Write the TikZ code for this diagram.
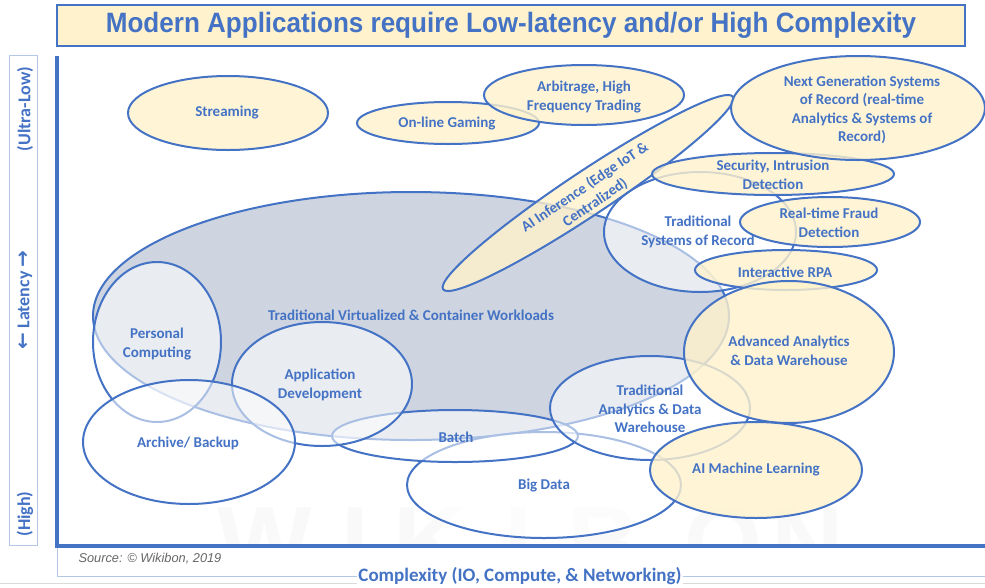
\documentclass[tikz,border=0pt]{standalone}
\usepackage{fontspec}
\setmainfont{Carlito}
\newfontfamily\titlefont[FakeStretch=0.93]{Liberation Sans}
\newfontfamily\srcfont{Liberation Sans}
\newfontfamily\arrowfont{DejaVu Sans}
\usepackage{tikz}
\usetikzlibrary{shapes.geometric}
\usetikzlibrary{positioning}
\definecolor{wkblue}{HTML}{4472C4}
\definecolor{wkyellow}{HTML}{FFF2CC}
\definecolor{wkgray}{HTML}{CFD5E0}
\definecolor{wkline}{HTML}{B4C7E7}
\tikzstyle{blob} = [ellipse, draw=wkblue, line width=2pt, inner sep=0pt]
\tikzstyle{yblob} = [blob, fill=wkyellow, fill opacity=0.8]
\tikzstyle{wblob} = [blob, fill=white, fill opacity=0.55]
\tikzstyle{gblob} = [blob, fill=wkgray]
\tikzstyle{lbl} = [text=wkblue, font=\fontsize{15}{18.5}\selectfont\bfseries, align=center, inner sep=0pt]
\tikzstyle{axislbl} = [text=wkblue, font=\fontsize{18}{20}\selectfont\bfseries]

\begin{document}
\begin{tikzpicture}[x=1pt, y=-1pt]
        \useasboundingbox (0,0) rectangle (985,587);
        % faint watermark
        \begin{scope}
            \clip (57,56) rectangle (985,546);
            \foreach \ch/\xx in {W/265, I/355, K/430, I/518, B/604, O/723, N/808}
                \node (wm\xx) [text=black!2.5, font=\srcfont\bfseries\fontsize{100}{100}\selectfont, anchor=base] at (\xx,576) {\ch};
        \end{scope}

        \node (title) [rectangle, draw=wkblue, line width=2pt, fill=wkyellow, minimum width=908pt, minimum height=41pt, text=wkblue, font=\titlefont\bfseries\fontsize{28}{30}\selectfont] at (511,25.5) {Modern Applications require Low-latency and/or High Complexity};

        % axes
        \node (latbox) [rectangle, draw=wkline, line width=0.8pt, minimum width=28pt, minimum height=490pt] at (23,300.5) {};
        \node (ultra) [axislbl, rotate=90] at (25,109) {(Ultra-Low)};
        \node (latency) [axislbl, rotate=90] at (25,300) {{\arrowfont\fontsize{20}{20}\selectfont ←} Latency {\arrowfont\fontsize{20}{20}\selectfont →}};
        \node (high) [axislbl, rotate=90] at (25,514) {(High)};
        \coordinate (ytop) at (57,56);
        \coordinate (origin) at (57,546);
        \coordinate (xend) at (985,546);
        \coordinate (srcbl) at (57,576);
        \coordinate (srcbr) at (985,576);
        \draw [wkline, line width=0.8pt] (origin) -- (srcbl) -- (srcbr);
        \draw [black!15, line width=0.8pt] (0,583) -- (985,583);
        \draw [wkblue, line width=3.5pt] (ytop) -- (origin) -- (xend);
        \node (source) [anchor=west, text=black!60, font=\srcfont\itshape\fontsize{12.8}{14}\selectfont] at (75,559) {Source: © Wikibon, 2019};
        \node (complexity) [axislbl, fill=white, inner sep=1pt, font=\fontsize{19}{20}\selectfont\bfseries, anchor=base] at (520,581.5) {Complexity (IO, Compute, \& Networking)};

        % workload ellipses
        \node (tvcw) [gblob, minimum width=636pt, minimum height=248pt] at (411,316) {};
        \node (stream) [yblob, minimum width=200pt, minimum height=74pt] at (228,113) {};
        \node (gaming) [yblob, minimum width=182pt, minimum height=42pt] at (448,123) {};
        \node (arbit) [yblob, minimum width=200pt, minimum height=60pt] at (584,95) {};
        \node (bigdata) [wblob, minimum width=274pt, minimum height=106pt] at (544,485) {};
        \node (batch) [wblob, minimum width=246pt, minimum height=52pt] at (455,436) {};
        \node (tradana) [wblob, minimum width=200pt, minimum height=104pt] at (650,408) {};
        \node (personal) [wblob, minimum width=128pt, minimum height=160pt] at (157,342) {};
        \node (appdev) [wblob, minimum width=180pt, minimum height=124pt] at (322,384) {};
        \node (archive) [wblob, minimum width=212pt, minimum height=124pt] at (189,442) {};
        \node (tradsor) [wblob, minimum width=192pt, minimum height=120pt] at (700,232) {};
        \node (aiinf) [yblob, minimum width=348pt, minimum height=44pt, rotate=33.6] at (588,193) {};
        \node (security) [yblob, minimum width=242pt, minimum height=42pt] at (773,174) {};
        \node (nextgen) [yblob, minimum width=254pt, minimum height=104pt] at (858,108) {};
        \node (fraud) [yblob, minimum width=180pt, minimum height=50pt] at (830,222) {};
        \node (rpa) [yblob, minimum width=182pt, minimum height=40pt] at (786,270) {};
        \node (advana) [yblob, minimum width=210pt, minimum height=142pt] at (789,352) {};
        \node (aiml) [yblob, minimum width=212pt, minimum height=96pt] at (756,470) {};

        % labels
        \node (tvcwtxt) [lbl] at (411,315) {Traditional Virtualized \& Container Workloads};
        \node (streamtxt) [lbl] at (227,113) {Streaming};
        \node (gamingtxt) [lbl] at (447,124) {On-line Gaming};
        \node (arbittxt) [lbl] at (584,97) {Arbitrage, High\\Frequency Trading};
        \node (bigdatatxt) [lbl] at (544,485) {Big Data};
        \node (batchtxt) [lbl] at (456,437) {Batch};
        \node (tradanatxt) [lbl] at (650,409) {Traditional\\Analytics \& Data\\Warehouse};
        \node (personaltxt) [lbl] at (157,344) {Personal\\Computing};
        \node (appdevtxt) [lbl] at (320,385) {Application\\Development};
        \node (archivetxt) [lbl] at (188,443) {Archive/ Backup};
        \node (tradsortxt) [lbl] at (698,232) {Traditional\\Systems of Record};
        \node (aiinftxt) [lbl, rotate=34] at (590,195) {AI Inference (Edge IoT \&\\Centralized)};
        \node (securitytxt) [lbl] at (773,175) {Security, Intrusion\\Detection};
        \node (nextgentxt) [lbl] at (862,110) {Next Generation Systems\\of Record (real-time\\Analytics \& Systems of\\Record)};
        \node (fraudtxt) [lbl] at (829,223) {Real-time Fraud\\Detection};
        \node (rpatxt) [lbl] at (785,272) {Interactive RPA};
        \node (advanatxt) [lbl] at (789,351) {Advanced Analytics\\\& Data Warehouse};
        \node (aimltxt) [lbl] at (756,469) {AI Machine Learning};
    \end{tikzpicture}
\end{document}
